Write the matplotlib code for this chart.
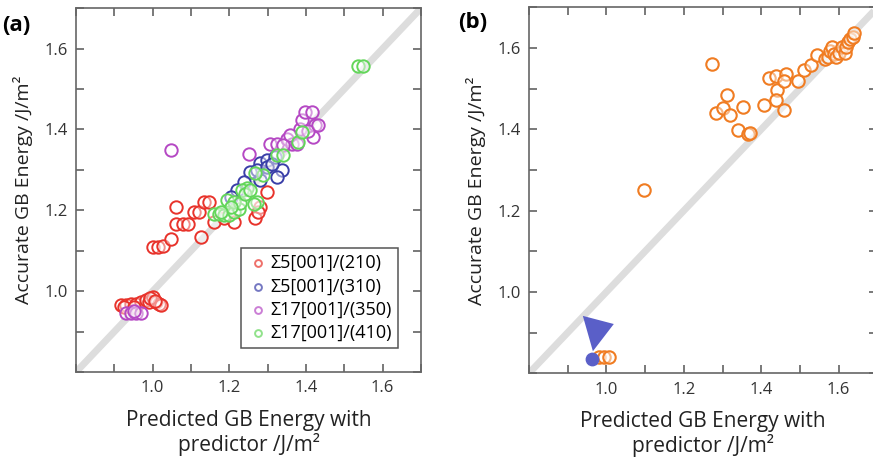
import matplotlib.pyplot as plt
from matplotlib.ticker import MultipleLocator, FuncFormatter

plt.rcParams['font.family'] = ['Open Sans', 'DejaVu Sans']

# (a) four boundary types: predicted vs accurate GB energy
red_x = [0.918, 0.931, 0.944, 0.957, 0.970, 0.983, 0.991, 1.000, 1.009, 1.017, 1.022, 0.925, 0.950,
         0.992, 1.005,
         1.000, 1.013, 1.026, 1.047, 1.060, 1.060, 1.078, 1.091, 1.108, 1.121, 1.125, 1.134, 1.147,
         1.160, 1.212, 1.268, 1.281, 1.298, 1.275, 1.185]
red_y = [0.965, 0.965, 0.967, 0.969, 0.972, 0.978, 0.972, 0.986, 0.972, 0.968, 0.965, 0.962, 0.960,
         0.982, 0.975,
         1.109, 1.109, 1.111, 1.130, 1.208, 1.167, 1.166, 1.166, 1.196, 1.196, 1.134, 1.221, 1.221,
         1.171, 1.171, 1.180, 1.208, 1.245, 1.195, 1.180]

blue_x = [1.255, 1.281, 1.298, 1.320, 1.337, 1.324, 1.281, 1.237, 1.220, 1.272, 1.298, 1.203, 1.310]
blue_y = [1.295, 1.316, 1.324, 1.332, 1.299, 1.283, 1.274, 1.270, 1.250, 1.299, 1.307, 1.233, 1.315]

purple_x = [0.931, 0.944, 0.957, 0.970, 0.950,
            1.047, 1.250, 1.307, 1.324, 1.350, 1.363, 1.384, 1.389, 1.398, 1.415, 1.423, 1.419,
            1.376, 1.341, 1.358, 1.405, 1.430]
purple_y = [0.945, 0.945, 0.945, 0.947, 0.950,
            1.349, 1.340, 1.365, 1.365, 1.377, 1.365, 1.402, 1.423, 1.443, 1.443, 1.410, 1.382,
            1.365, 1.361, 1.386, 1.395, 1.412]

green_x = [1.535, 1.548, 1.324, 1.341, 1.380, 1.389, 1.289, 1.268, 1.246, 1.233,
           1.160, 1.173, 1.186, 1.199, 1.212, 1.225, 1.194, 1.212, 1.229, 1.272, 1.242, 1.255,
           1.203, 1.178, 1.265]
green_y = [1.557, 1.557, 1.336, 1.336, 1.369, 1.394, 1.287, 1.291, 1.254, 1.250,
           1.192, 1.192, 1.188, 1.188, 1.196, 1.204, 1.225, 1.221, 1.217, 1.221, 1.241, 1.250,
           1.208, 1.195, 1.215]

# (b) single data set
orange_x = [1.274, 1.097, 1.311, 1.284, 1.300, 1.320, 1.352, 1.341, 1.365, 1.370, 1.407, 1.420,
            1.439, 1.441, 1.437, 1.458, 1.463, 1.458, 1.494, 1.510, 1.528, 1.543, 1.565, 1.572,
            1.578, 1.583, 1.588, 1.592, 1.600, 1.609, 1.617, 1.620, 1.624, 1.630, 1.637, 1.639,
            0.980, 0.993, 1.006]
orange_y = [1.561, 1.251, 1.485, 1.440, 1.453, 1.435, 1.456, 1.398, 1.389, 1.392, 1.459, 1.527,
            1.532, 1.498, 1.473, 1.447, 1.536, 1.518, 1.518, 1.547, 1.558, 1.583, 1.573, 1.578,
            1.592, 1.602, 1.585, 1.577, 1.587, 1.602, 1.587, 1.602, 1.614, 1.622, 1.628, 1.636,
            0.839, 0.839, 0.839]
marked_x = [0.963]
marked_y = [0.836]
arrow_x = [0.939, 1.019, 0.965]
arrow_y = [0.941, 0.921, 0.854]

labels = ['Σ5[001]/(210)', 'Σ5[001]/(310)', 'Σ17[001]/(350)', 'Σ17[001]/(410)']
colors = ['#e8332b', '#3a3fa8', '#b548c4', '#63d65a']
lims = (0.8, 1.7)

fig = plt.figure(figsize=(8.73, 4.63), dpi=100)
ax1 = fig.add_axes([0.0871, 0.1965, 0.3952, 0.786])
ax2 = fig.add_axes([0.606, 0.194, 0.399, 0.790])

fmt = FuncFormatter(lambda v, p: f'{v:.1f}' if round(v * 10) % 2 == 0 and v > 0.85 else '')


def style(ax):
    ax.plot(lims, lims, color='#dddddd', lw=5, zorder=1, solid_capstyle='butt')
    ax.set_xlim(lims)
    ax.set_ylim(lims)
    for a in (ax.xaxis, ax.yaxis):
        a.set_major_locator(MultipleLocator(0.1))
        a.set_major_formatter(fmt)
    ax.tick_params(direction='in', top=True, right=True, length=6, width=1.1,
                   color='#555555', labelsize=12, labelcolor='#333333', pad=6)
    for s in ax.spines.values():
        s.set_color('#666666')
        s.set_linewidth(1.2)
    ax.set_ylabel('Accurate GB Energy /J/m²', fontsize=14, color='#222222', labelpad=8)
    ax.set_xlabel('Predicted GB Energy with\npredictor /J/m²', fontsize=15, color='#222222',
                  labelpad=10, linespacing=1.1)


style(ax1)
for xs, ys, c, lab in zip([red_x, blue_x, purple_x, green_x], [red_y, blue_y, purple_y, green_y],
                          colors, labels):
    ax1.scatter(xs, ys, s=80, facecolors=(1, 1, 1, 0.45), edgecolors=c, linewidths=1.4,
                zorder=3, label=lab)
leg = ax1.legend(loc='lower right', bbox_to_anchor=(0.96, 0.04), fontsize=13, markerscale=0.55,
                 handletextpad=0.1, borderpad=0.35, labelspacing=0.3, fancybox=False,
                 edgecolor='#555555', framealpha=1, handlelength=1.2)
leg.get_frame().set_linewidth(1.1)
for h in leg.legend_handles:
    h.set_alpha(0.7)

style(ax2)
ax2.scatter(orange_x, orange_y, s=80, facecolors=(1, 1, 1, 0.45), edgecolors='#f07c22',
            linewidths=1.5, zorder=3)
ax2.scatter(marked_x, marked_y, s=80, color='#5a5fc8', zorder=4)
ax2.fill(arrow_x, arrow_y, color='#5a5fc8', zorder=4, lw=0)

fig.text(0.002, 0.945, '(a)', fontsize=16, fontweight='bold', ha='left', va='center')
fig.text(0.525, 0.952, '(b)', fontsize=16, fontweight='bold', ha='left', va='center')

fig.savefig('out.png', dpi=100, facecolor='white')
